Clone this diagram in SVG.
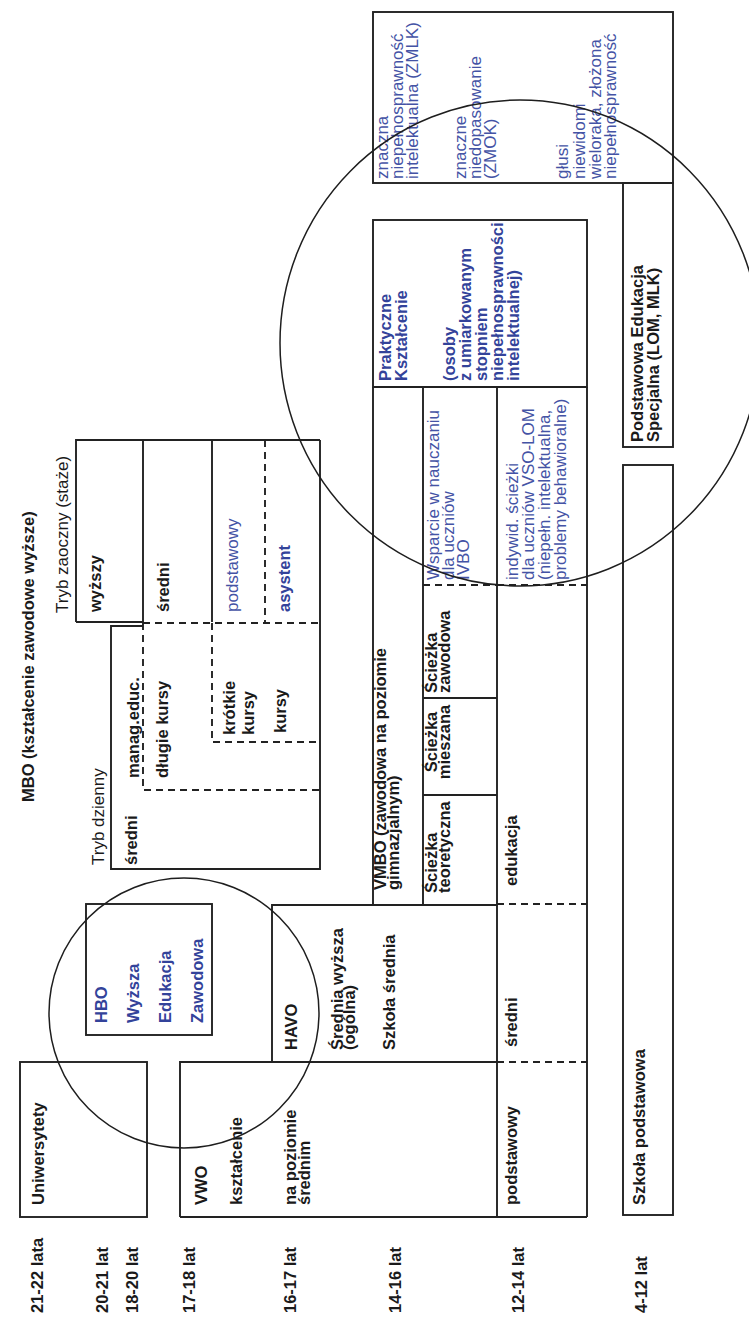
<svg xmlns="http://www.w3.org/2000/svg" width="749" height="1317" viewBox="0 0 749 1317">
<style>
text{font-family:"Liberation Sans",Arial,sans-serif}
.b{font-weight:bold;font-size:16.5px;fill:#1a1a1a}
.r{font-size:17px;fill:#1a1a1a}
.bl{font-size:17px;fill:#4453a5}
.bb{font-weight:bold;font-size:16.5px;fill:#33439a}
.mid{text-anchor:middle}
.box{fill:none;stroke:#222;stroke-width:1.9}
.dash{fill:none;stroke:#222;stroke-width:1.9;stroke-dasharray:7 5}
.ring{fill:none;stroke:#1e1e1e;stroke-width:1.5}
</style>
<rect width="749" height="1317" fill="#fff"/>

<g id="age-axis">
<text class="b" transform="translate(43 1313) rotate(-90)">21-22 lata</text>
<text class="b" transform="translate(108 1313) rotate(-90)">20-21 lat</text>
<text class="b" transform="translate(138 1313) rotate(-90)">18-20 lat</text>
<text class="b" transform="translate(195 1313) rotate(-90)">17-18 lat</text>
<text class="b" transform="translate(296 1313) rotate(-90)">16-17 lat</text>
<text class="b" transform="translate(401 1313) rotate(-90)">14-16 lat</text>
<text class="b" transform="translate(524 1313) rotate(-90)">12-14 lat</text>
<text class="b" transform="translate(647 1313) rotate(-90)">4-12 lat</text>
</g>

<g id="uniwersytety">
<rect class="box" x="20" y="1062" width="127" height="155"/>
<text class="b" transform="translate(44 1205) rotate(-90)">Uniwersytety</text>
</g>

<g id="hbo">
<rect class="box" x="86" y="904" width="126" height="131"/>
<text class="bb" transform="translate(107 1023) rotate(-90)"><tspan x="0" y="0">HBO</tspan><tspan x="0" y="32">Wyższa</tspan><tspan x="0" y="64">Edukacja</tspan><tspan x="0" y="96">Zawodowa</tspan></text>
</g>

<g id="mbo">
<text class="b" transform="translate(34 802) rotate(-90)">MBO (kształcenie zawodowe wyższe)</text>
</g>

<g id="tryb-zaoczny">
<path class="box" d="M76 622V440H320M76 622H143M143 440V622M212 440V622"/>
<path class="dash" d="M265 440V623"/>
<text class="r" transform="translate(68 613) rotate(-90)">Tryb zaoczny (staże)</text>
<text class="b" transform="translate(101 612) rotate(-90)">wyższy</text>
<text class="b" transform="translate(169 612) rotate(-90)">średni</text>
<text class="bl" transform="translate(238 612) rotate(-90)">podstawowy</text>
<text class="bb" transform="translate(290 612) rotate(-90)">asystent</text>
</g>

<g id="tryb-dzienny">
<path class="box" d="M143 626H111V869H320V440"/>
<path class="dash" d="M143 623H320M143 623V790H320M212 623V742H320"/>
<text class="r" transform="translate(104 865) rotate(-90)">Tryb dzienny</text>
<text class="b" transform="translate(137 865) rotate(-90)">średni</text>
<text class="b" transform="translate(139 778) rotate(-90)">manag.educ.</text>
<text class="b" transform="translate(168 778) rotate(-90)">długie kursy</text>
<text class="b" transform="translate(235 735) rotate(-90)">krótkie</text>
<text class="b" transform="translate(254 735) rotate(-90)">kursy</text>
<text class="b" transform="translate(286 733) rotate(-90)">kursy</text>
</g>

<g id="vwo">
<path class="box" d="M180 1217V1062H272M180 1217H497"/>
<text class="b" transform="translate(207 1205) rotate(-90)">VWO</text>
<text class="b" transform="translate(242 1205) rotate(-90)">kształcenie</text>
<text class="b" transform="translate(296 1205) rotate(-90)">na poziomie</text>
<text class="b" transform="translate(310 1205) rotate(-90)">średnim</text>
</g>

<g id="havo">
<path class="box" d="M272 1062V905H497M272 1062H497"/>
<text class="b" transform="translate(297 1050) rotate(-90)">HAVO</text>
<text class="b" transform="translate(343 1050) rotate(-90)">Średnia wyższa</text>
<text class="b" transform="translate(355 1050) rotate(-90)">(ogólna)</text>
<text class="b" transform="translate(395 1050) rotate(-90)">Szkoła średnia</text>
</g>

<g id="vmbo">
<path class="box" d="M373 387V905M423 387V905M373 387H497M423 795H497M423 698H497"/>
<path class="dash" d="M423 585H497"/>
<text class="b" transform="translate(386 890) rotate(-90)">VMBO (zawodowa na poziomie</text>
<text class="b" transform="translate(399 890) rotate(-90)">gimnazjalnym)</text>
<text class="b" transform="translate(437 893) rotate(-90)"><tspan x="0" y="0">Ścieżka</tspan><tspan x="0" y="13">teoretyczna</tspan></text>
<text class="b mid" transform="translate(437 742) rotate(-90)"><tspan x="0" y="0">Ścieżka</tspan><tspan x="0" y="13">mieszana</tspan></text>
<text class="b" transform="translate(437 693) rotate(-90)"><tspan x="0" y="0">Ścieżka</tspan><tspan x="0" y="13">zawodowa</tspan></text>
<text class="bl" transform="translate(439 580) rotate(-90)"><tspan x="0" y="0">Wsparcie w nauczaniu</tspan><tspan x="0" y="15">dla uczniów</tspan><tspan x="0" y="30">IVBO</tspan></text>
</g>

<g id="edukacja-row">
<path class="box" d="M497 387V1217M587 387V1217M497 387H587M497 1217H587"/>
<path class="dash" d="M497 585H587M497 904H587M497 1062H587"/>
<text class="bl" transform="translate(518 580) rotate(-90)"><tspan x="0" y="0">indywid. ścieżki</tspan><tspan x="0" y="16">dla uczniów VSO-LOM</tspan><tspan x="0" y="32">(niepełn. intelektualna,</tspan><tspan x="0" y="48">problemy behawioralne)</tspan></text>
<text class="b" transform="translate(517 886) rotate(-90)">edukacja</text>
<text class="b" transform="translate(517 1047) rotate(-90)">średni</text>
<text class="b" transform="translate(517 1205) rotate(-90)">podstawowy</text>
</g>

<g id="praktyczne">
<rect class="box" x="373" y="220" width="214" height="167"/>
<text class="bb" transform="translate(391 381) rotate(-90)"><tspan x="0" y="0">Praktyczne</tspan><tspan x="0" y="16">Kształcenie</tspan><tspan x="0" y="64">(osoby</tspan><tspan x="0" y="80">z umiarkowanym</tspan><tspan x="0" y="96">stopniem</tspan><tspan x="0" y="112">niepełnosprawności</tspan><tspan x="0" y="128">intelektualnej)</tspan></text>
</g>

<g id="special-needs">
<rect class="box" x="373" y="12" width="300" height="171"/>
<text class="bl" transform="translate(388 179) rotate(-90)"><tspan x="0" y="0">znaczna</tspan><tspan x="0" y="15">niepełnosprawność</tspan><tspan x="0" y="30">intelektualna (ZMLK)</tspan><tspan x="0" y="78">znaczne</tspan><tspan x="0" y="93">niedopasowanie</tspan><tspan x="0" y="108">(ZMOK)</tspan><tspan x="0" y="180">głusi</tspan><tspan x="0" y="197">niewidomi</tspan><tspan x="0" y="213">wieloraka, złożona</tspan><tspan x="0" y="228">niepełnosprawność</tspan></text>
</g>

<g id="podstawowa-specjalna">
<rect class="box" x="623" y="183" width="50" height="264"/>
<text class="b" transform="translate(643 442) rotate(-90)"><tspan x="0" y="0">Podstawowa Edukacja</tspan><tspan x="0" y="16">Specjalna (LOM, MLK)</tspan></text>
</g>

<g id="szkola-podstawowa">
<rect class="box" x="623" y="465" width="50" height="750"/>
<text class="b" transform="translate(645 1205) rotate(-90)">Szkoła podstawowa</text>
</g>

<g id="highlights">
<ellipse class="ring" cx="520" cy="343" rx="240" ry="243"/>
<circle class="ring" cx="184" cy="1013" r="135"/>
</g>
</svg>
